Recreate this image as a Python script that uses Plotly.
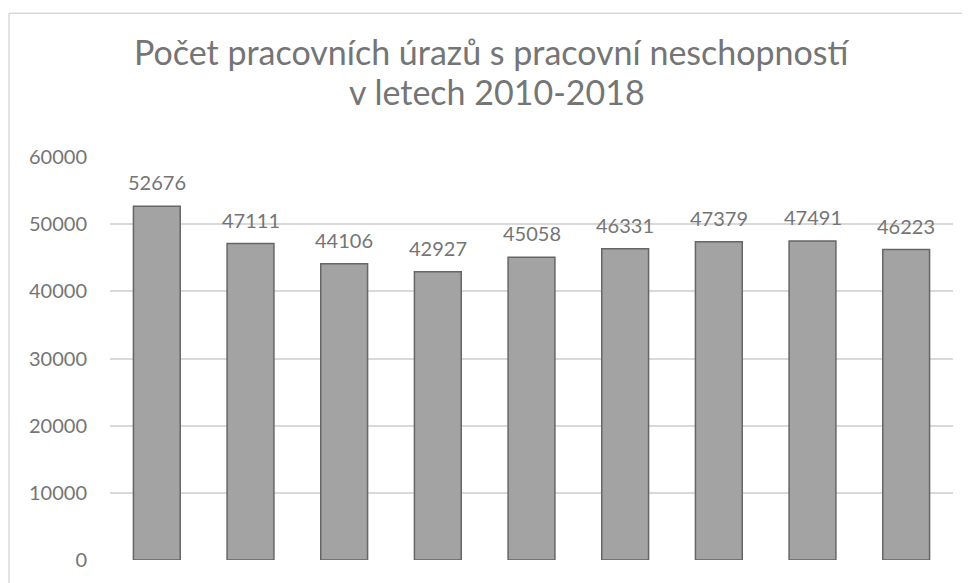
import plotly.graph_objects as go

years = ["2010", "2011", "2012", "2013", "2014", "2015", "2016", "2017", "2018"]
injuries = [52676, 47111, 44106, 42927, 45058, 46331, 47379, 47491, 46223]
y_ticks = [0, 10000, 20000, 30000, 40000, 50000, 60000]

title_lines = ["Počet pracovních úrazů s pracovní neschopností", "v letech 2010-2018"]

FONT = "Lato"
GREY = "#757575"

fig = go.Figure()
fig.add_trace(go.Bar(
    x=years, y=injuries,
    marker=dict(color="#a3a3a3", line=dict(color="#666666", width=1.5)),
    hoverinfo="x+y",
))

# value labels above the bars (x given as category index)
for i, v in enumerate(injuries):
    fig.add_annotation(x=i, y=v, text=str(v), showarrow=False, yshift=24,
                       font=dict(family=FONT, size=20, color=GREY))

# two-line chart title
for txt, xp, yp in zip(title_lines, [0.453, 0.459], [1.262, 1.163]):
    fig.add_annotation(xref="paper", yref="paper", x=xp, y=yp, text=txt, showarrow=False,
                       xanchor="center", yanchor="middle",
                       font=dict(family=FONT, size=34, color=GREY))

fig.update_layout(
    width=962, height=575,
    margin=dict(l=102, r=17, t=149, b=23),
    paper_bgcolor="white", plot_bgcolor="white",
    bargap=0.5,
    showlegend=False,
    font=dict(family=FONT, color=GREY),
)
fig.update_xaxes(type="category", categoryorder="array", categoryarray=years,
                 range=[-0.5, len(years) - 0.5],
                 showticklabels=False, showline=False, showgrid=False, zeroline=False)
fig.update_yaxes(range=[0, 60000], tickvals=y_ticks, ticktext=[str(t) for t in y_ticks],
                 showgrid=True, gridcolor="#d9d9d9", gridwidth=1.5, zeroline=False,
                 showline=False, ticks="", ticklabelstandoff=22,
                 tickfont=dict(family=FONT, size=20, color=GREY))

# chart area border (left and top visible, extends beyond the frame)
fig.add_shape(type="line", xref="paper", yref="paper", x0=-0.1198, x1=1.1, y0=1.357, y1=1.357,
              line=dict(color="#d9d9d9", width=1.5))
fig.add_shape(type="line", xref="paper", yref="paper", x0=-0.1198, x1=-0.1198, y0=-0.2, y1=1.357,
              line=dict(color="#d9d9d9", width=1.5))

fig.write_html("out.html")
